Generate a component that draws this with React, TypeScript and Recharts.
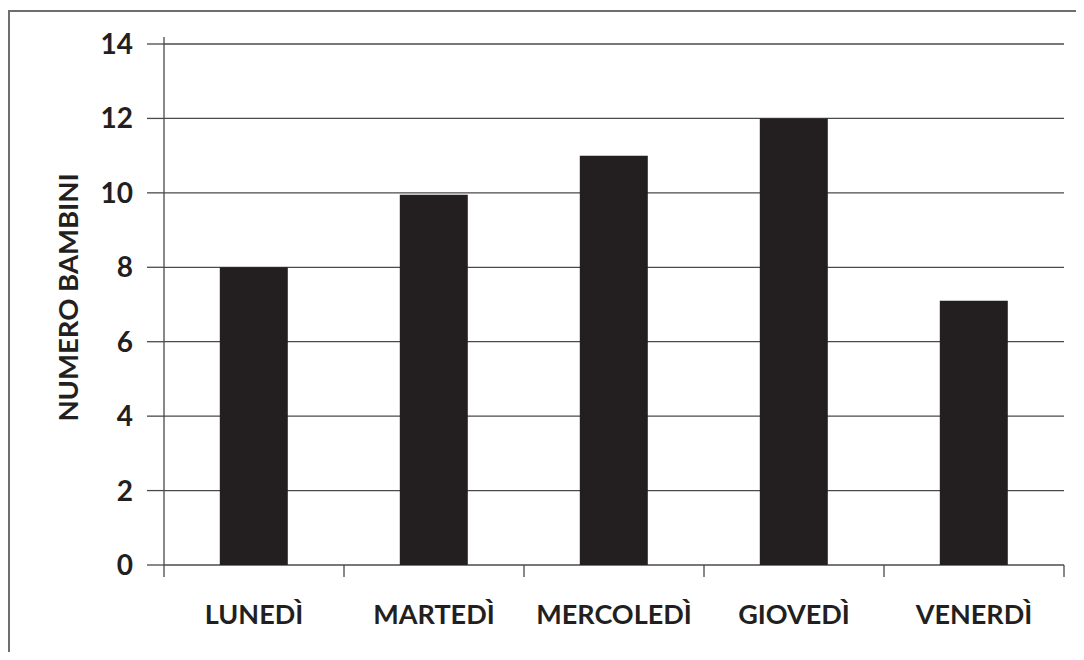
import React from 'react';
import { BarChart, Bar, XAxis, YAxis, CartesianGrid, Label, ReferenceLine } from 'recharts';

const days = ['LUNEDÌ', 'MARTEDÌ', 'MERCOLEDÌ', 'GIOVEDÌ', 'VENERDÌ'];
const bambini = [8, 9.95, 11, 12, 7.1];
const yTicks = [0, 2, 4, 6, 8, 10, 12, 14];
const boundaryTicks = [0, 1, 2, 3, 4, 5];
const axisOvershoot = [14, 14.19];

const data = days.map((d, i) => ({ day: d, value: bambini[i], pos: i + 0.5 }));

const FONT = 'Lato, "Open Sans", sans-serif';
const INK = '#231f20';
const LINE = '#4a4a4a';

const EmptyTick = () => <g />;

const YLabel = (props: any) => {
  const vb = props.viewBox || { x: 0, y: 0, width: 0, height: 0 };
  const cx = vb.x + 67;
  const cy = vb.y + vb.height / 2 - 7;
  return (
    <text
      x={cx}
      y={cy}
      transform={`rotate(-90, ${cx}, ${cy})`}
      textAnchor="middle"
      dominantBaseline="central"
      fontFamily={FONT}
      fontWeight={700}
      fontSize={27.5}
      fill={INK}
    >
      NUMERO BAMBINI
    </text>
  );
};

export default function App() {
  return (
    <div style={{ position: 'relative', width: 1084, height: 660, margin: -8, background: '#fff', overflow: 'hidden' }}>
      <div
        style={{
          position: 'absolute',
          left: 8,
          top: 10,
          width: 1090,
          height: 660,
          borderTop: '2px solid #6e6e6e',
          borderLeft: '2px solid #6e6e6e',
        }}
      />
      <div style={{ position: 'absolute', left: 0, top: 0 }}>
        <BarChart
          width={1084}
          height={660}
          data={data}
          margin={{ top: 44, right: 20, bottom: 0, left: 0 }}
          barCategoryGap="31%"
        >
          <CartesianGrid
            xAxisId="b_cat"
            yAxisId="val"
            horizontal
            vertical={false}
            stroke={LINE}
            strokeWidth={1.3}
          />
          <XAxis
            xAxisId="b_cat"
            dataKey="day"
            height={83}
            tickSize={0}
            tickMargin={28}
            axisLine={false}
            tickLine={false}
            interval={0}
            tick={{ fontFamily: FONT, fontWeight: 700, fontSize: 27, fill: INK }}
          />
          <XAxis
            xAxisId="a_ticks"
            type="number"
            dataKey="pos"
            domain={[0, 5]}
            ticks={boundaryTicks}
            allowDataOverflow
            height={12}
            tickSize={12}
            tick={EmptyTick}
            axisLine={false}
            tickLine={{ stroke: LINE, strokeWidth: 1.3 }}
          />
          <YAxis
            yAxisId="val"
            width={164}
            domain={[0, 14]}
            ticks={yTicks}
            interval={0}
            tickSize={17}
            tickMargin={14}
            axisLine={{ stroke: LINE, strokeWidth: 1.3 }}
            tickLine={{ stroke: LINE, strokeWidth: 1.3 }}
            tick={{ fontFamily: FONT, fontWeight: 700, fontSize: 28, fill: INK }}
          >
            <Label content={<YLabel />} />
          </YAxis>
          <Bar xAxisId="b_cat" yAxisId="val" dataKey="value" fill={INK} isAnimationActive={false} />
          <ReferenceLine
            xAxisId="a_ticks"
            yAxisId="val"
            segment={[
              { x: boundaryTicks[0], y: axisOvershoot[0] },
              { x: boundaryTicks[0], y: axisOvershoot[1] },
            ]}
            ifOverflow="visible"
            stroke={LINE}
            strokeWidth={1.3}
          />
        </BarChart>
      </div>
    </div>
  );
}
